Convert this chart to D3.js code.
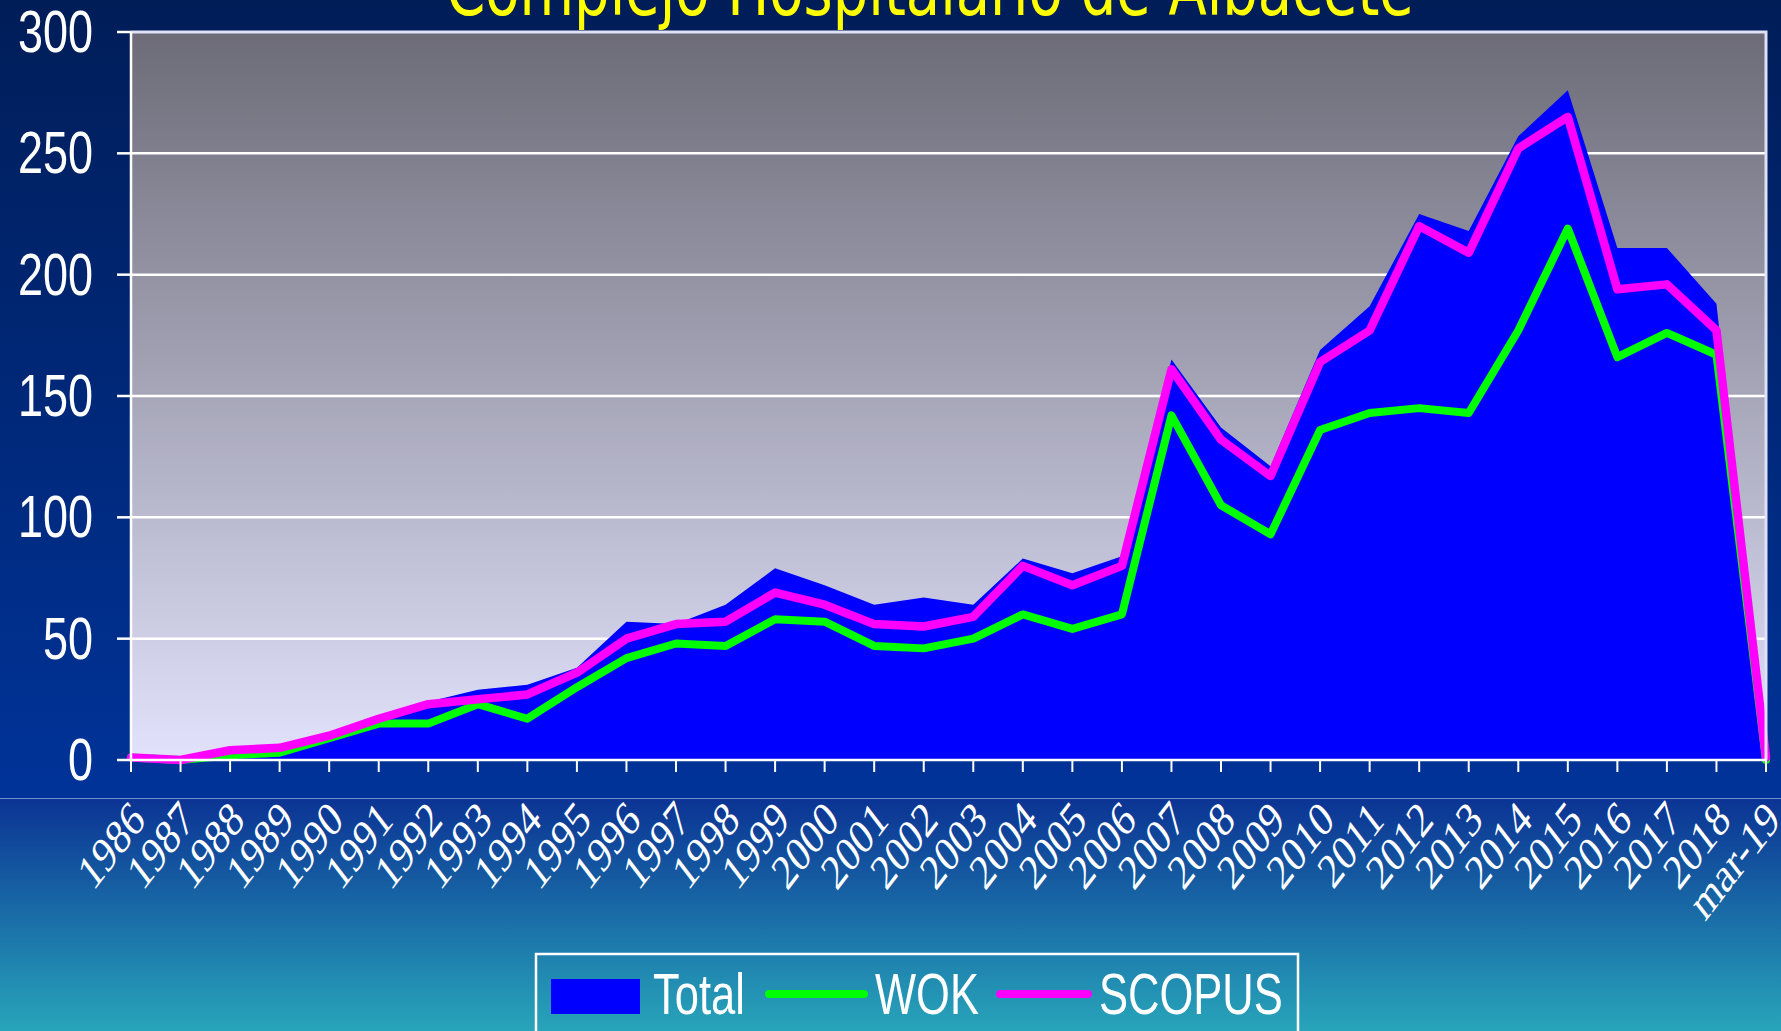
<!DOCTYPE html>
<html>
<head>
<meta charset="utf-8">
<script src="https://cdn.jsdelivr.net/npm/d3@7"></script>
<style>
  body { margin: 0; overflow: hidden; background: #001e5a; }
  svg { display: block; }
</style>
</head>
<body>
<div id="chart"></div>
<script>
// data
var years = ["1986", "1987", "1988", "1989", "1990", "1991", "1992", "1993", "1994", "1995",
  "1996", "1997", "1998", "1999", "2000", "2001", "2002", "2003", "2004", "2005", "2006",
  "2007", "2008", "2009", "2010", "2011", "2012", "2013", "2014", "2015", "2016", "2017",
  "2018", "mar-19"];
var total = [2, 0, 3, 4, 10, 18, 24, 29, 31, 38, 57, 56, 64, 79, 72, 64, 67, 64, 83, 77, 84,
  165, 137, 121, 169, 187, 225, 218, 257, 276, 211, 211, 188, 1];
var wok = [1, 0, 2, 3, 9, 15, 15, 23, 17, 30, 42, 48, 47, 58, 57, 47, 46, 50, 60, 54, 60,
  142, 105, 93, 136, 143, 145, 143, 177, 219, 166, 176, 167, 0];
var scopus = [1, 0, 4, 5, 10, 17, 23, 25, 27, 36, 50, 56, 57, 69, 64, 56, 55, 59, 80, 72, 80,
  161, 132, 117, 164, 177, 220, 209, 252, 265, 194, 196, 177, 1];
var yTicks = [0, 50, 100, 150, 200, 250, 300];
var seriesNames = ["Total", "WOK", "SCOPUS"];
var title = "Complejo Hospitalario de Albacete";

drawChart();

function drawChart() {
  var w = 1781, h = 1031;
  var pLeft = 131, pRight = 1766, pTop = 32, pBottom = 760;
  var stretch = 1.3; // the original slide is stretched vertically

  var svg = d3.select("#chart").append("svg").attr("width", w).attr("height", h);
  var defs = svg.append("defs");

  function grad(id, y1, y2, c1, c2) {
    var g = defs.append("linearGradient").attr("id", id)
      .attr("gradientUnits", "userSpaceOnUse")
      .attr("x1", 0).attr("x2", 0).attr("y1", y1).attr("y2", y2);
    g.append("stop").attr("offset", 0).attr("stop-color", c1);
    g.append("stop").attr("offset", 1).attr("stop-color", c2);
  }
  grad("bgTop", 0, 798, "#001d58", "#003399");
  grad("bgBottom", 798, h, "#0b3394", "#28a5ba");
  grad("plotBg", pTop, pBottom, "#6c6b77", "#e2e2fc");

  svg.append("rect").attr("width", w).attr("height", 798).attr("fill", "url(#bgTop)");
  svg.append("rect").attr("y", 798).attr("width", w).attr("height", h - 798).attr("fill", "url(#bgBottom)");
  svg.append("line").attr("x1", 0).attr("x2", w).attr("y1", 798.5).attr("y2", 798.5)
    .attr("stroke", "#6f8fd0").attr("stroke-width", 1);

  var x = d3.scalePoint().domain(years).range([pLeft, pRight]);
  var y = d3.scaleLinear().domain([0, 300]).range([pBottom, pTop]);

  // plot area
  svg.append("rect").attr("x", pLeft).attr("y", pTop)
    .attr("width", pRight - pLeft).attr("height", pBottom - pTop)
    .attr("fill", "url(#plotBg)");

  svg.append("g").selectAll("line")
    .data(yTicks.filter(function (d) { return d > 0 && d < 300; }))
    .enter().append("line")
    .attr("x1", pLeft).attr("x2", pRight)
    .attr("y1", function (d) { return y(d); })
    .attr("y2", function (d) { return y(d); })
    .attr("stroke", "#ffffff").attr("stroke-width", 2.5);

  var area = d3.area()
    .x(function (d, i) { return x(years[i]); })
    .y0(y(0))
    .y1(function (d) { return y(d); });

  svg.append("path").datum(total).attr("d", area).attr("fill", "#0000ff");

  var line = d3.line()
    .x(function (d, i) { return x(years[i]); })
    .y(function (d) { return y(d); });

  svg.append("path").datum(wok).attr("d", line)
    .attr("fill", "none").attr("stroke", "#00ff00")
    .attr("stroke-width", 8).attr("stroke-linejoin", "round").attr("stroke-linecap", "round");
  svg.append("path").datum(scopus).attr("d", line)
    .attr("fill", "none").attr("stroke", "#ff00ff")
    .attr("stroke-width", 8.5).attr("stroke-linejoin", "round").attr("stroke-linecap", "round");

  // plot frame (top / right)
  svg.append("path")
    .attr("d", "M" + pLeft + "," + pTop + "H" + pRight + "V" + pBottom)
    .attr("fill", "none").attr("stroke", "#e0e0f6").attr("stroke-width", 3);

  // y axis
  var yAxis = svg.append("g");
  yAxis.append("line").attr("x1", pLeft).attr("x2", pLeft).attr("y1", pTop).attr("y2", pBottom)
    .attr("stroke", "#ffffff").attr("stroke-width", 2.5);
  yAxis.selectAll(".tick").data(yTicks).enter().append("line")
    .attr("x1", pLeft - 14).attr("x2", pLeft)
    .attr("y1", function (d) { return y(d); })
    .attr("y2", function (d) { return y(d); })
    .attr("stroke", "#ffffff").attr("stroke-width", 2.5);
  yAxis.selectAll("text").data(yTicks).enter().append("text")
    .attr("transform", function (d) {
      return "translate(93," + (y(d) + 20) + ") scale(1," + stretch + ")";
    })
    .attr("text-anchor", "end")
    .attr("fill", "#ffffff")
    .style("font-family", "'Liberation Sans', Arial, sans-serif")
    .style("font-size", "45px")
    .text(function (d) { return d; });

  // x axis
  var xAxis = svg.append("g");
  xAxis.append("line").attr("x1", pLeft).attr("x2", pRight).attr("y1", pBottom).attr("y2", pBottom)
    .attr("stroke", "#ffffff").attr("stroke-width", 2.5);
  xAxis.selectAll(".tick").data(years).enter().append("line")
    .attr("x1", function (d) { return x(d); })
    .attr("x2", function (d) { return x(d); })
    .attr("y1", pBottom).attr("y2", pBottom + 12)
    .attr("stroke", "#ffffff").attr("stroke-width", 2);
  xAxis.selectAll("text").data(years).enter().append("text")
    .attr("transform", function (d) {
      return "translate(" + (x(d) + 16) + ",822) scale(1," + stretch + ") rotate(-45)";
    })
    .attr("text-anchor", "end")
    .attr("fill", "#ffffff")
    .style("font-family", "'Liberation Serif', 'Times New Roman', serif")
    .style("font-size", "38px")
    .text(function (d) { return d; });

  // title (mostly off the top edge)
  svg.append("text")
    .attr("transform", "translate(930,15) scale(1," + stretch + ")")
    .attr("text-anchor", "middle")
    .attr("fill", "#ffff00")
    .style("font-family", "'DejaVu Sans', sans-serif")
    .style("font-size", "56px")
    .text(title);

  // legend
  var lg = svg.append("g");
  lg.append("rect").attr("x", 536).attr("y", 954).attr("width", 762).attr("height", 100)
    .attr("fill", "none").attr("stroke", "#ffffff").attr("stroke-width", 2.5);
  lg.append("rect").attr("x", 551).attr("y", 979).attr("width", 89).attr("height", 35)
    .attr("fill", "#0000ff");
  var legendLines = [
    { x1: 769, x2: 864, color: "#00ff00" },
    { x1: 1000, x2: 1088, color: "#ff00ff" }
  ];
  lg.selectAll(".ll").data(legendLines).enter().append("line")
    .attr("x1", function (d) { return d.x1; })
    .attr("x2", function (d) { return d.x2; })
    .attr("y1", 994).attr("y2", 994)
    .attr("stroke", function (d) { return d.color; })
    .attr("stroke-width", 8).attr("stroke-linecap", "round");
  var legendX = [653, 875, 1099];
  lg.selectAll("text").data(seriesNames).enter().append("text")
    .attr("transform", function (d, i) {
      return "translate(" + legendX[i] + ",1014) scale(1," + stretch + ")";
    })
    .attr("fill", "#ffffff")
    .style("font-family", "'Liberation Sans', Arial, sans-serif")
    .style("font-size", "43.5px")
    .text(function (d) { return d; });
}
</script>
</body>
</html>
